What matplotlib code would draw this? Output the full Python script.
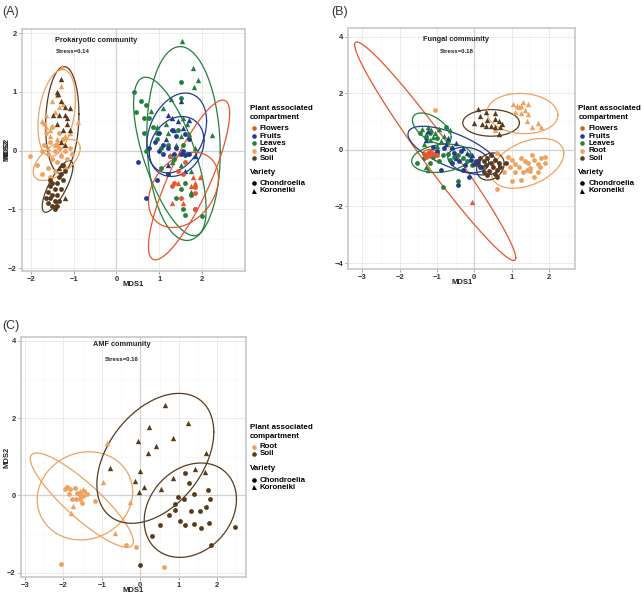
import numpy as np
import matplotlib
matplotlib.use("Agg")
import matplotlib.pyplot as plt
from matplotlib.lines import Line2D

plt.rcParams['font.family'] = ['Liberation Sans', 'DejaVu Sans']

colors = {"Flowers": "#E5562B", "Fruits": "#223B8E", "Leaves": "#22803A",
          "Root": "#F0A15E", "Soil": "#5A3A1C"}
markers = {"Chondroelia": "o", "Koroneiki": "^"}
varieties = ["Chondroelia", "Koroneiki"]

# ---------------- Panel A: Prokaryotic ----------------
A_points = {
    ("Root", "Koroneiki"): [(-1.27, 1.42), (-1.30, 1.10), (-1.50, 0.85), (-1.35, 0.75), (-1.45, 0.65), (-1.75, 0.50),
                            (-1.65, 0.40), (-1.50, 0.42), (-1.55, 0.35), (-0.90, 0.48), (-1.20, 0.25), (-1.40, 0.20),
                            (-1.55, 0.25), (-1.60, 0.05), (-1.30, -0.05), (-1.65, 0.60), (-1.40, 0.95), (-1.25, 0.80),
                            (-1.10, 0.30), (-1.45, 0.10)],
    ("Root", "Chondroelia"): [(-2.02, -0.10), (-1.85, -0.25), (-1.75, 0.0), (-1.70, 0.10), (-1.60, -0.05), (-1.55, 0.15),
                              (-1.50, -0.15), (-1.45, 0.0), (-1.40, -0.20), (-1.35, 0.05), (-1.30, -0.10), (-1.20, 0.00),
                              (-1.15, -0.15), (-1.10, 0.05), (-1.05, -0.05), (-1.25, 0.20), (-1.60, -0.30), (-1.45, -0.35),
                              (-1.65, 0.30), (-1.50, 0.40), (-1.70, 0.45), (-1.35, 0.30), (-1.55, -0.45), (-1.40, 0.10),
                              (-1.75, -0.40), (-1.20, -0.30)],
    ("Soil", "Koroneiki"): [(-1.30, 1.22), (-1.40, 1.00), (-1.36, 0.97), (-1.30, 0.85), (-1.20, 0.75), (-1.10, 0.72),
                            (-1.48, 0.60), (-1.35, 0.60), (-1.20, 0.60), (-1.15, 0.55), (-1.40, 0.45), (-1.15, 0.45),
                            (-1.25, 0.35), (-1.10, 0.35), (-1.30, 0.15), (-1.20, 0.10), (-1.30, -0.25), (-1.20, -0.80),
                            (-1.35, -0.30)],
    ("Soil", "Chondroelia"): [(-1.25, -0.25), (-1.20, -0.35), (-1.30, -0.40), (-1.40, -0.55), (-1.50, -0.55), (-1.55, -0.60),
                              (-1.45, -0.65), (-1.60, -0.70), (-1.50, -0.75), (-1.40, -0.75), (-1.55, -0.80), (-1.45, -0.85),
                              (-1.35, -0.85), (-1.60, -0.90), (-1.50, -0.95), (-1.30, -0.65), (-1.25, -0.50), (-1.65, -0.80),
                              (-1.40, -0.95), (-1.55, -0.50), (-1.35, -0.45), (-1.45, -1.00)],
    ("Leaves", "Koroneiki"): [(1.53, 1.87), (1.79, 1.40), (1.92, 1.21), (1.82, 1.08), (1.27, 0.87), (1.08, 0.72), (0.82, 0.68),
                              (1.55, 0.55), (1.65, 0.45), (1.70, 0.28), (1.50, 0.25), (1.40, 0.10), (1.85, 0.05), (1.30, -0.20),
                              (1.20, 0.30), (1.50, -0.25), (1.75, -0.35), (1.75, -0.70), (1.15, 0.45), (0.95, 0.40), (2.23, 0.27)],
    ("Leaves", "Chondroelia"): [(0.42, 0.99), (0.58, 0.84), (0.45, 0.66), (0.70, 0.78), (0.75, 0.55), (0.85, 0.40), (0.65, 0.30),
                                (0.95, 0.20), (0.70, 0.0), (1.05, 0.05), (1.20, 0.10), (1.45, 0.35), (1.55, 0.10), (1.65, -0.05),
                                (1.35, -0.15), (1.20, -0.40), (1.50, -0.65), (1.60, -0.55), (1.40, -0.80), (1.55, -1.00),
                                (1.60, -1.10), (2.00, -1.12), (1.85, -1.00), (0.95, 0.30), (1.52, 1.17), (1.50, 0.90),
                                (1.05, -0.30), (1.75, -0.75), (0.65, 0.55)],
    ("Fruits", "Koroneiki"): [(1.50, 0.85), (1.20, 0.60), (1.30, 0.55), (1.70, 0.52), (1.45, 0.50), (1.35, 0.35), (1.55, 0.38),
                              (1.15, 0.20), (1.20, -0.25), (1.60, -0.35), (1.85, -0.10)],
    ("Fruits", "Chondroelia"): [(0.50, -0.20), (0.75, 0.05), (0.90, 0.15), (1.00, 0.0), (1.10, -0.05), (1.20, 0.05), (1.25, -0.10),
                                (1.35, -0.05), (1.40, 0.05), (1.50, -0.05), (1.55, 0.00), (1.60, -0.08), (1.70, -0.05), (1.30, 0.35),
                                (1.00, 0.30), (1.40, 0.25), (1.60, 0.28), (1.70, 0.20), (0.95, -0.50), (0.70, -0.80), (1.20, -0.40),
                                (1.10, 0.10)],
    ("Flowers", "Koroneiki"): [(1.80, -0.45), (1.95, -0.45), (1.85, -0.55), (1.45, -0.55), (1.75, -0.60), (1.30, -0.90),
                               (1.55, -0.90), (1.25, -0.08)],
    ("Flowers", "Chondroelia"): [(1.45, -0.35), (1.85, -0.62), (1.85, -0.72), (1.30, -0.60), (1.50, -0.80), (1.85, -1.00),
                                 (1.60, -0.20), (1.55, -0.40), (1.35, -0.55)],
}
# ellipses: group -> (center x, center y, half-width x, half-height y, y offset at rightmost point)
A_ellipses = {
    ("Soil", "Koroneiki"): (-1.27, 0.52, 0.39, 0.91, 0.10),
    ("Soil", "Chondroelia"): (-1.38, -0.61, 0.36, 0.44, 0.34),
    ("Root", "Koroneiki"): (-1.40, 0.64, 0.44, 0.74, 0.23),
    ("Root", "Chondroelia"): (-1.40, -0.16, 0.55, 0.35, 0.20),
    ("Leaves", "Koroneiki"): (1.57, 0.12, 0.86, 1.65, -0.15),
    ("Leaves", "Chondroelia"): (1.25, -0.10, 0.85, 1.35, -0.90),
    ("Fruits", "Koroneiki"): (1.41, 0.30, 0.70, 0.68, 0.20),
    ("Fruits", "Chondroelia"): (1.41, 0.07, 0.64, 0.51, 0.10),
    ("Flowers", "Koroneiki"): (1.70, -0.50, 0.95, 1.36, 1.13),
    ("Flowers", "Chondroelia"): (1.57, -0.67, 0.82, 0.64, 0.20),
}

# ---------------- Panel B: Fungal ----------------
B_points = {
    ("Root", "Koroneiki"): [(1.30, 1.70), (1.45, 1.60), (1.20, 1.50), (1.35, 1.40), (1.10, 1.35), (1.25, 1.30), (1.40, 1.00),
                            (1.55, 0.80), (1.70, 0.95), (1.80, 0.80), (1.25, 1.55), (1.45, 1.25), (1.15, 1.55), (1.05, 1.60),
                            (0.55, 0.70)],
    ("Root", "Chondroelia"): [(0.90, -0.25), (1.00, -0.35), (1.10, -0.50), (1.20, -0.60), (1.30, -0.80), (1.40, -0.70),
                              (1.50, -0.75), (1.60, -0.35), (1.70, -0.50), (1.80, -0.30), (1.90, -0.25), (1.45, -0.45),
                              (1.25, -0.30), (1.10, -0.80), (0.95, -0.60), (0.80, -0.80), (1.00, -1.10), (1.25, -1.05),
                              (1.55, -0.20), (1.75, -0.60), (1.60, -0.95), (1.35, -0.40), (0.60, -1.40), (0.60, -0.10),
                              (1.70, -0.80), (1.50, -0.65), (1.90, -0.45), (-1.05, 1.40)],
    ("Soil", "Koroneiki"): [(0.10, 1.45), (0.30, 1.35), (0.15, 1.20), (0.55, 1.30), (0.35, 1.05), (0.55, 1.10), (0.65, 1.00),
                            (0.45, 0.85), (0.30, 0.85), (0.55, 0.80), (0.70, 0.80), (0.00, 0.95), (0.20, 0.90), (0.65, 0.55),
                            (0.75, 0.90)],
    ("Soil", "Chondroelia"): [(0.15, -0.30), (0.25, -0.40), (0.35, -0.30), (0.45, -0.45), (0.30, -0.55), (0.50, -0.60),
                              (0.60, -0.70), (0.40, -0.75), (0.20, -0.60), (0.55, -0.85), (0.65, -0.45), (0.35, -0.90),
                              (0.10, -0.50), (0.70, -0.60), (0.85, -0.45), (0.25, -0.80), (0.45, -0.20), (0.55, -0.35),
                              (0.05, -0.40), (0.60, -0.95)],
    ("Leaves", "Koroneiki"): [(-1.40, 0.75), (-1.25, 0.80), (-1.15, 0.70), (-1.05, 0.60), (-0.95, 0.75), (-0.65, 0.70),
                              (-1.30, 0.55), (-1.10, 0.45), (-1.20, 0.35), (-0.80, 0.50), (-1.30, -0.60), (-1.25, -0.70),
                              (-1.00, 0.15), (-0.90, 0.30), (-1.35, 0.20)],
    ("Leaves", "Chondroelia"): [(-1.55, -0.45), (-1.35, -0.30), (-1.10, -0.25), (-1.00, -0.10), (-0.85, -0.20), (-0.70, -0.15),
                                (-0.55, -0.25), (-0.45, -0.20), (-0.30, -0.30), (-0.20, -0.40), (-0.05, -0.55), (-0.85, -1.30),
                                (-0.45, -1.10), (-1.20, -0.45), (-0.65, -0.35), (-1.30, 0.40), (-1.00, 0.40), (-0.70, 0.30),
                                (-1.20, 0.60), (-0.60, 0.05), (-0.95, -0.40), (-0.15, -0.20), (-1.45, 0.60), (-0.75, 0.80)],
    ("Fruits", "Koroneiki"): [(-1.25, 0.65), (-1.30, 0.35), (-0.75, 0.20), (-0.50, 0.25), (-0.60, 0.10), (-0.30, 0.05),
                              (-0.20, -0.10), (-0.50, -0.30), (-0.05, -0.20), (-0.70, 0.40)],
    ("Fruits", "Chondroelia"): [(-0.90, -0.70), (-0.45, -1.25), (-0.10, -0.35), (0.00, -0.50), (0.10, -0.40), (-0.25, -0.55),
                                (-0.40, -0.40), (-0.60, -0.45), (-0.15, -0.95), (-0.35, -0.05), (-0.80, 0.05), (-0.30, -0.70),
                                (0.15, -0.60), (-1.10, 0.10), (-1.00, -0.05), (-0.55, -0.10)],
    ("Flowers", "Koroneiki"): [(-0.05, -1.85), (-1.10, -0.10), (-1.20, -0.20)],
    ("Flowers", "Chondroelia"): [(-1.35, -0.15), (-1.25, -0.10), (-1.10, -0.15), (-1.20, -0.05), (-1.00, -0.20), (-1.30, -0.25)],
}
B_ellipses = {
    ("Flowers", "Koroneiki"): (-1.05, -0.05, 2.16, 3.86, -3.76),
    ("Flowers", "Chondroelia"): (-1.18, -0.13, 0.20, 0.14, 0.00),
    ("Soil", "Koroneiki"): (0.45, 0.95, 0.76, 0.47, 0.00),
    ("Root", "Koroneiki"): (1.29, 1.28, 0.95, 0.71, -0.05),
    ("Root", "Chondroelia"): (1.43, -0.48, 0.97, 0.88, 0.35),
    ("Soil", "Chondroelia"): (0.43, -0.59, 0.37, 0.48, 0.10),
    ("Fruits", "Koroneiki"): (-0.56, -0.03, 1.22, 0.86, -0.58),
    ("Fruits", "Chondroelia"): (-0.16, -0.36, 0.55, 0.45, -0.10),
    ("Leaves", "Koroneiki"): (-1.14, 0.75, 0.52, 0.55, -0.30),
    ("Leaves", "Chondroelia"): (-0.88, -0.30, 0.80, 0.50, 0.10),
}

# ---------------- Panel C: AMF ----------------
C_points = {
    ("Soil", "Koroneiki"): [(0.64, 2.33), (0.23, 1.78), (1.23, 1.87), (0.84, 1.49), (-0.07, 1.40), (0.42, 1.27), (0.19, 1.11),
                            (1.72, 1.11), (-0.79, 0.71), (-0.01, 0.63), (0.84, 0.44), (1.42, 0.68), (-0.14, 0.37), (0.10, 0.23),
                            (-0.03, 0.09), (0.54, 0.17), (1.68, 0.62)],
    ("Soil", "Chondroelia"): [(1.15, 0.59), (1.26, 0.31), (0.99, -0.04), (1.13, -0.10), (1.39, 0.03), (1.76, 0.14), (1.81, -0.10),
                              (0.89, -0.23), (0.90, -0.37), (1.32, -0.41), (1.56, -0.41), (1.70, -0.30), (0.75, -0.51),
                              (1.03, -0.65), (1.40, -0.73), (1.79, -0.71), (1.17, -0.77), (1.58, -0.84), (0.51, -0.76),
                              (0.31, -1.06), (2.45, -0.82), (1.83, -1.28), (0.00, -1.80)],
    ("Root", "Koroneiki"): [(-0.86, 1.36), (-0.96, 0.35), (-0.27, -0.17), (-0.65, -0.97), (-1.80, -0.45), (-1.74, -0.28),
                            (-1.50, 0.17), (-1.57, 0.11)],
    ("Root", "Chondroelia"): [(-1.91, 0.23), (-1.83, 0.16), (-1.96, 0.16), (-1.85, 0.03), (-1.78, -0.10), (-1.70, 0.20),
                              (-1.65, 0.07), (-1.67, -0.08), (-1.57, -0.10), (-1.52, -0.19), (-1.48, -0.02), (-1.38, 0.03),
                              (-1.18, -0.13), (-1.58, 0.00), (-1.46, 0.11), (-0.36, -1.28), (-0.10, -1.34), (-2.07, -1.76),
                              (0.62, -1.84)],
}
C_ellipses = {
    ("Root", "Koroneiki"): (-1.44, -0.01, 1.24, 1.14, 0.10),
    ("Root", "Chondroelia"): (-1.52, -0.12, 1.34, 1.22, -1.07),
    ("Soil", "Koroneiki"): (0.39, 0.96, 1.52, 1.68, 0.68),
    ("Soil", "Chondroelia"): (1.30, -0.38, 1.20, 1.22, 0.28),
}

W, H = 642.0, 598.0
panels = [
    dict(label="(A)", title="Prokaryotic community", stress="Stress=0.14", pts=A_points, ell=A_ellipses,
         box=(21.7, 29.0, 245.0, 271.0), xlim=(-2.22, 3.01), ylim=(-2.05, 2.07),
         xt=[-2, -1, 0, 1, 2], yt=[-2, -1, 0, 1, 2], xm=[-1.5, -0.5, 0.5, 1.5, 2.5], ym=[-1.5, -0.5, 0.5, 1.5],
         tpos=(-1.43, 1.88), spos=(-1.43, 1.69), ha="left",
         groups=["Flowers", "Fruits", "Leaves", "Root", "Soil"], lab=(2, 12),
         leg_x=250.0, leg_y=[109.0, 117.7], ent_y=[128.3, 136.0, 143.3, 150.7, 158.0], var_y=[172.3, 183.3, 190.7]),
    dict(label="(B)", title="Fungal community", stress="Stress=0.18", pts=B_points, ell=B_ellipses,
         box=(348.3, 28.3, 575.0, 269.0), xlim=(-3.38, 2.70), ylim=(-4.21, 4.29),
         xt=[-3, -2, -1, 0, 1, 2], yt=[-4, -2, 0, 2, 4], xm=[-2.5, -1.5, -0.5, 0.5, 1.5, 2.5], ym=[-3, -1, 1, 3],
         tpos=(-0.48, 3.88), spos=(-0.48, 3.46), ha="center",
         groups=["Flowers", "Fruits", "Leaves", "Root", "Soil"], lab=(331, 12),
         leg_x=578.3, leg_y=[109.0, 117.7], ent_y=[128.3, 136.0, 143.3, 150.7, 158.0], var_y=[172.3, 183.3, 190.7]),
    dict(label="(C)", title="AMF community", stress="Stress=0.16", pts=C_points, ell=C_ellipses,
         box=(20.7, 337.3, 245.7, 576.7), xlim=(-3.11, 2.74), ylim=(-2.10, 4.09),
         xt=[-3, -2, -1, 0, 1, 2], yt=[-2, 0, 2, 4], xm=[-2.5, -1.5, -0.5, 0.5, 1.5, 2.5], ym=[-1, 1, 3],
         tpos=(-0.49, 3.90), spos=(-0.49, 3.51), ha="center",
         groups=["Root", "Soil"], lab=(2, 326),
         leg_x=250.0, leg_y=[427.3, 436.0], ent_y=[446.7, 453.7], var_y=[468.3, 480.0, 487.3]),
]

fig = plt.figure(figsize=(W / 100, H / 100), dpi=100)

def fx(px):
    return px / W

def fy(py):
    return 1 - py / H

def draw_ellipse(ax, cx, cy, hx, hy, dyr, color):
    S = np.array([[hx * hx, dyr * hx], [dyr * hx, hy * hy]])
    L = np.linalg.cholesky(S)
    t = np.linspace(0, 2 * np.pi, 300)
    xy = L @ np.vstack([np.cos(t), np.sin(t)])
    ax.plot(cx + xy[0], cy + xy[1], color=color, lw=0.9, zorder=3)

FS = 5.7
for p in panels:
    x0, y0, x1, y1 = p["box"]
    ax = fig.add_axes([fx(x0), fy(y1), (x1 - x0) / W, (y1 - y0) / H])
    ax.set_xticks(p["xt"]); ax.set_yticks(p["yt"])
    ax.set_xticks(p["xm"], minor=True); ax.set_yticks(p["ym"], minor=True)
    ax.grid(True, which="major", color="#EBEBEB", lw=0.7, zorder=0)
    ax.grid(True, which="minor", color="#F5F5F5", lw=0.5, zorder=0)
    ax.set_axisbelow(True)
    ax.axhline(0, color="#D2D2D2", lw=0.9, zorder=1)
    ax.axvline(0, color="#D2D2D2", lw=0.9, zorder=1)
    for s in ax.spines.values():
        s.set_color("#C8C8C8"); s.set_linewidth(1.2)
    ax.tick_params(which="major", length=2, width=0.6, color="#999999", labelsize=5.5, pad=1.5, labelcolor="#333333")
    ax.tick_params(which="minor", length=0)
    for lbl in ax.get_xticklabels() + ax.get_yticklabels():
        lbl.set_fontweight("bold")
    ax.set_xlabel("MDS1", fontsize=5.5, fontweight="bold", color="#222222")
    ax.set_ylabel("MDS2", fontsize=5.5, fontweight="bold", color="#222222")
    hpx = y1 - y0
    wpx = x1 - x0
    lab_top = (y1 + 10.5)
    ax.xaxis.set_label_coords(0.5, -(lab_top - y1) / hpx)
    ax.yaxis.set_label_coords(-(x0 - 10.5) / wpx, 0.5)

    for (g, v), pts in p["pts"].items():
        arr = np.array(pts)
        ax.scatter(arr[:, 0], arr[:, 1], c=colors[g], marker=markers[v], s=12 if v == "Chondroelia" else 15,
                   linewidths=0, zorder=4)
    for (g, v), e in p["ell"].items():
        draw_ellipse(ax, *e, colors[g])
    ax.set_xlim(*p["xlim"]); ax.set_ylim(*p["ylim"])

    ax.text(p["tpos"][0], p["tpos"][1], p["title"], fontsize=5.3, fontweight="bold", ha=p["ha"], va="center",
            color="#222222", zorder=5)
    ax.text(p["spos"][0], p["spos"][1], p["stress"], fontsize=4.3, fontweight="bold", ha=p["ha"], va="center",
            color="#222222", zorder=5)
    fig.text(fx(p["lab"][0]), fy(p["lab"][1]), p["label"], fontsize=9, ha="left", va="center", color="#333333")

    # manual legends (figure coordinates)
    lx = p["leg_x"]
    fig.text(fx(lx), fy(p["leg_y"][0]), "Plant associated", fontsize=FS, fontweight="bold", ha="left", va="center")
    fig.text(fx(lx), fy(p["leg_y"][1]), "compartment", fontsize=FS, fontweight="bold", ha="left", va="center")
    for g, yy in zip(p["groups"], p["ent_y"]):
        fig.add_artist(Line2D([fx(lx + 3.5)], [fy(yy)], marker="o", ls="", color=colors[g], markersize=3.3,
                              markeredgewidth=0, transform=fig.transFigure))
        fig.text(fx(lx + 10), fy(yy), g, fontsize=FS, fontweight="bold", ha="left", va="center")
    fig.text(fx(lx), fy(p["var_y"][0]), "Variety", fontsize=FS, fontweight="bold", ha="left", va="center")
    for v, yy in zip(varieties, p["var_y"][1:]):
        fig.add_artist(Line2D([fx(lx + 3.5)], [fy(yy)], marker=markers[v], ls="", color="black",
                              markersize=3.3 if v == "Chondroelia" else 3.6, markeredgewidth=0,
                              transform=fig.transFigure))
        fig.text(fx(lx + 10), fy(yy), v, fontsize=FS, fontweight="bold", ha="left", va="center")

fig.savefig("out.png", dpi=100)
